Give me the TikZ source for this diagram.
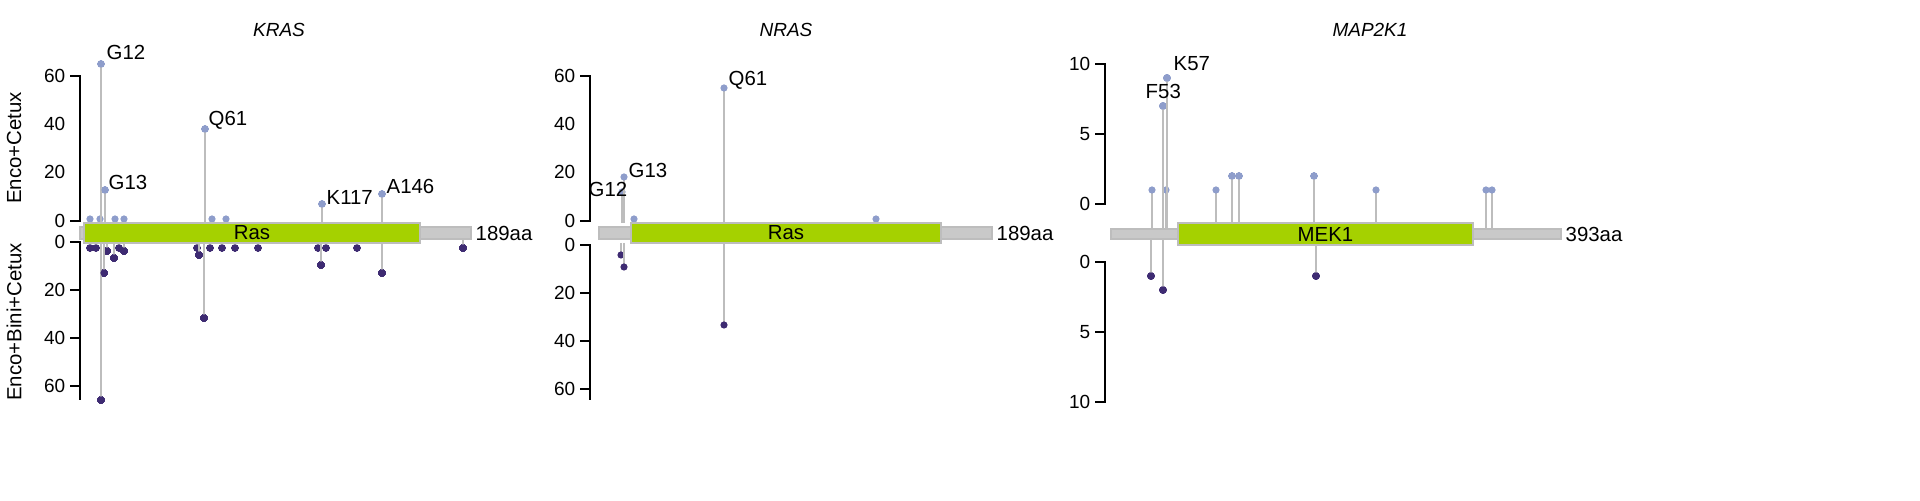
\documentclass[tikz,border=0pt]{standalone}
\usepackage{fontspec}
\setmainfont{Liberation Sans}
\definecolor{stemgray}{HTML}{BDBDBD}
\definecolor{updot}{HTML}{8E9DCB}
\definecolor{lowdot}{HTML}{3E2B72}
\definecolor{domgreen}{HTML}{A5D100}
\definecolor{bargray}{HTML}{C9C9C9}
\tikzset{
  lbl/.style={font=\fontsize{5.8}{6.5}\selectfont, inner sep=0pt},
  tick/.style={font=\fontsize{5.4}{6}\selectfont, inner sep=0pt, anchor=east},
  gene/.style={font=\fontsize{5.4}{6}\selectfont\itshape, inner sep=0pt},
  stem/.style={stemgray, line width=0.35pt},
}
\newcommand{\updot}[3]{\draw[stem] (#1,#3) -- (#1,#2); \fill[updot] (#1,#2) circle[radius=3.6];}
\newcommand{\lowdot}[3]{\draw[stem] (#1,#3) -- (#1,#2); \fill[lowdot] (#1,#2) circle[radius=3.6];}
\begin{document}
\begin{tikzpicture}[x=0.01cm,y=-0.01cm]
    \useasboundingbox (0,0) rectangle (1920,501);
    % side labels
    \node[lbl, rotate=90] (enco) at (14,148) {Enco+Cetux};
    \node[lbl, rotate=90] (bini) at (14,322) {Enco+Bini+Cetux};
    % KRAS
    \node[gene] (kras) at (279,30) {KRAS};
    \draw[line width=0.4pt] (70,76) -- (80,76) -- (80,221) -- (70,221);
    \draw[line width=0.4pt] (70,242) -- (80,242) -- (80,400);
    \foreach \v/\y in {60/76,40/124,20/172,0/221} \node[tick] at (66,\y) {\v};
    \foreach \v/\y in {0/242,20/290,40/338,60/386} {
      \draw[line width=0.4pt] (70,\y) -- (80,\y);
      \node[tick] at (66,\y) {\v};}
    \foreach \x in {90,100,115,124,212,226} \updot{\x}{219}{223}
    \updot{101}{64}{223}
    \updot{105}{190}{223}
    \updot{205}{129}{223}
    \updot{322}{204}{223}
    \updot{382}{194}{223}
    \foreach \x in {90,96,119,197,210,222,235,258,318,326,357} \lowdot{\x}{248}{243}
    \lowdot{107}{251}{243}
    \lowdot{114}{258}{243}
    \lowdot{124}{251}{243}
    \lowdot{199}{255}{243}
    \lowdot{101}{400}{243}
    \lowdot{104}{273}{243}
    \lowdot{204}{318}{243}
    \lowdot{321}{265}{243}
    \lowdot{382}{273}{243}
    \lowdot{463}{248}{239}
    \fill[bargray, draw=stemgray] (80,227) rectangle (471,239);
    \node[draw=stemgray, fill=domgreen, minimum width=3.36cm, minimum height=0.2cm, inner sep=0pt, lbl] (kras ras) at (252,233) {Ras};
    \node[lbl, anchor=west] (kras len) at (475,233) {189aa};
    \node[lbl, anchor=south west] (g12) at (106,60) {G12};
    \node[lbl, anchor=south west] (g13) at (108,190) {G13};
    \node[lbl, anchor=south west] (q61) at (208,130) {Q61};
    \node[lbl, anchor=south west] (k117) at (326,205) {K117};
    \node[lbl, anchor=south west] (a146) at (386,194) {A146};
    % NRAS
    \node[gene] (nras) at (786,30) {NRAS};
    \draw[line width=0.4pt] (580,76) -- (590,76) -- (590,221) -- (580,221);
    \draw[line width=0.4pt] (580,245) -- (590,245) -- (590,400);
    \foreach \v/\y in {60/76,40/124,20/172,0/221} \node[tick] at (576,\y) {\v};
    \foreach \v/\y in {0/245,20/293,40/341,60/389} {
      \draw[line width=0.4pt] (580,\y) -- (590,\y);
      \node[tick] at (576,\y) {\v};}
    \updot{622}{192}{223}
    \updot{624}{177}{223}
    \updot{634}{219}{223}
    \updot{876}{219}{223}
    \updot{724}{88}{223}
    \lowdot{621}{255}{243}
    \lowdot{624}{267}{243}
    \lowdot{724}{325}{243}
    \fill[bargray, draw=stemgray] (599,227) rectangle (992,239);
    \node[draw=stemgray, fill=domgreen, minimum width=3.10cm, minimum height=0.2cm, inner sep=0pt, lbl] (nras ras) at (786,233) {Ras};
    \node[lbl, anchor=west] (nras len) at (996,233) {189aa};
    \node[lbl, anchor=south east] (n g12) at (628,197) {G12};
    \node[lbl, anchor=south west] (n g13) at (628,178) {G13};
    \node[lbl, anchor=south west] (n q61) at (728,90) {Q61};
    % MAP2K1
    \node[gene] (map2k1) at (1370,30) {MAP2K1};
    \draw[line width=0.4pt] (1095,64) -- (1105,64) -- (1105,204) -- (1095,204);
    \draw[line width=0.4pt] (1095,134) -- (1105,134);
    \draw[line width=0.4pt] (1095,262) -- (1105,262) -- (1105,402) -- (1095,402);
    \draw[line width=0.4pt] (1095,332) -- (1105,332);
    \foreach \v/\y in {10/64,5/134,0/204} \node[tick] at (1091,\y) {\v};
    \foreach \v/\y in {0/262,5/332,10/402} \node[tick] at (1091,\y) {\v};
    \foreach \x in {1152,1166,1216,1376,1486,1492} \updot{\x}{190}{229}
    \foreach \x in {1232,1239,1314} \updot{\x}{176}{223}
    \updot{1163}{106}{229}
    \updot{1167}{78}{229}
    \lowdot{1151}{276}{239}
    \lowdot{1163}{290}{239}
    \lowdot{1316}{276}{245}
    \fill[bargray, draw=stemgray] (1111,229) rectangle (1561,239);
    \node[draw=stemgray, fill=domgreen, minimum width=2.95cm, minimum height=0.22cm, inner sep=0pt, lbl] (mek1) at (1325.5,234) {MEK1};
    \node[lbl, anchor=west] (map len) at (1565,234) {393aa};
    \node[lbl, anchor=south west] (k57) at (1173,71) {K57};
    \node[lbl, anchor=south west] (f53) at (1145,99) {F53};
\end{tikzpicture}
\end{document}
